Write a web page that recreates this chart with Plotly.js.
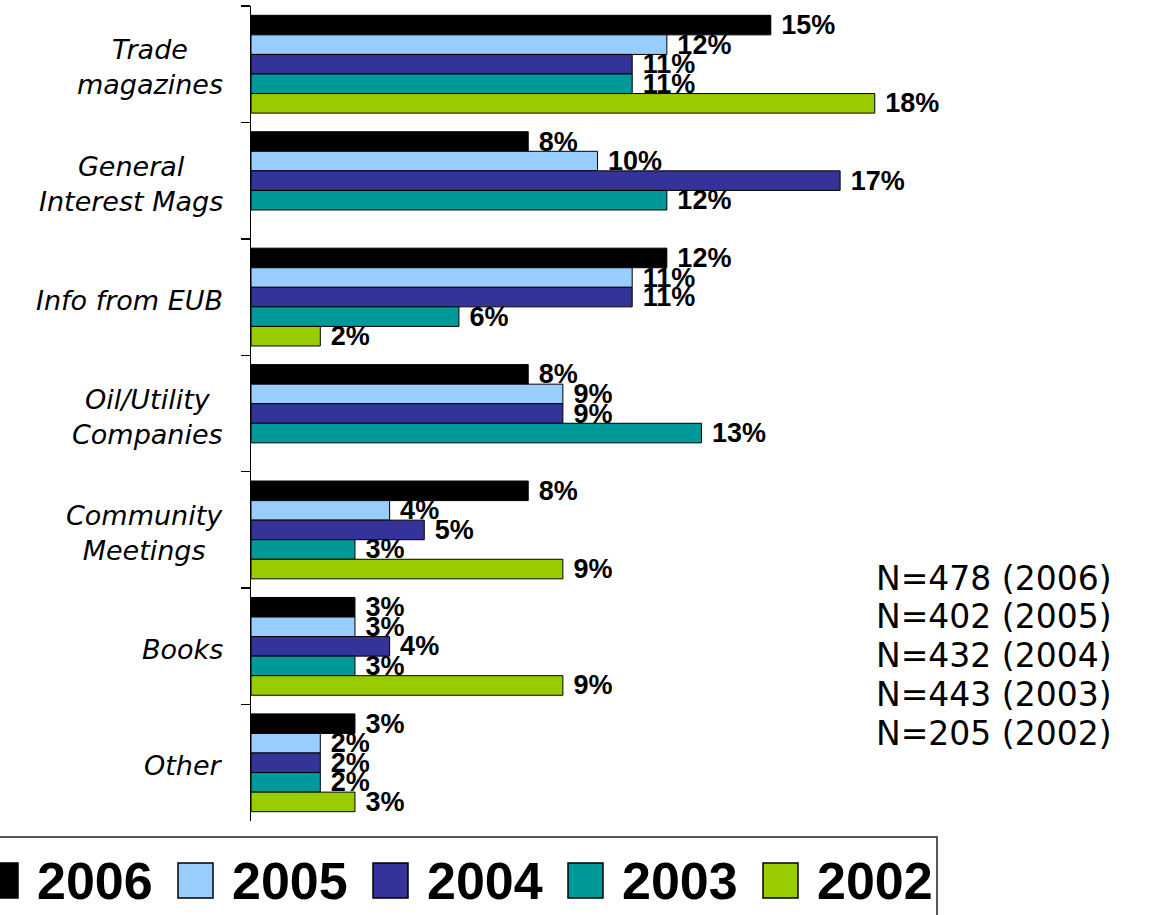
<!DOCTYPE html>
<html>
<head>
<meta charset="utf-8">
<script src="https://cdn.plot.ly/plotly-3.0.1.min.js"></script>
<style>
  html, body { margin: 0; padding: 0; background: #fff; }
  #plot { width: 1160px; height: 915px; }
</style>
</head>
<body>
<div id="plot"></div>
<script>
// categories, top to bottom
const categories = ['Trade magazines', 'General Interest Mags', 'Info from EUB',
  'Oil/Utility Companies', 'Community Meetings', 'Books', 'Other'];
const categoryLabels = ['Trade<br>magazines', 'General<br>Interest Mags', 'Info from EUB',
  'Oil/Utility<br>Companies', 'Community<br>Meetings', 'Books', 'Other'];

const years = ['2006', '2005', '2004', '2003', '2002'];
const colors = ['#000000', '#99ccff', '#333399', '#009999', '#99cc00'];

// percent values per year
const v2006 = [15, 8, 12, 8, 8, 3, 3];
const v2005 = [12, 10, 11, 9, 4, 3, 2];
const v2004 = [11, 17, 11, 9, 5, 4, 2];
const v2003 = [11, 12, 6, 13, 3, 3, 2];
const v2002 = [18, null, 2, null, 9, 9, 3];
const values = [v2006, v2005, v2004, v2003, v2002];

// sample sizes
const nValues = [478, 402, 432, 443, 205];

// plot area in pixels
const W = 1160, H = 915;
const ml = 251, mt = 6, mb = 94, mr = 8;
const pw = W - ml - mr, ph = H - mt - mb;
const px = x => (x - ml) / pw;
const py = y => (H - mb - y) / ph;

const traces = years.map((yr, i) => ({
    type: 'bar',
    orientation: 'h',
    name: yr,
    x: values[i],
    y: categories,
    marker: { color: colors[i], line: { color: '#000', width: 1 } },
    texttemplate: '\u00a0%{x}%',
    textposition: 'outside',
    constraintext: 'none',
    cliponaxis: false,
    textfont: { family: 'Arial, "Liberation Sans", sans-serif', size: 27, color: '#000', weight: 'bold' },
    hoverinfo: 'x+y+name'
}));

let annotations = [];
let shapes = [];

// category labels
categories.forEach((c, i) => {
    annotations.push({
        xref: 'paper', yref: 'y', x: px(225), y: c, yshift: -3,
        xanchor: 'right', yanchor: 'middle', align: 'center',
        text: categoryLabels[i], showarrow: false,
        font: { family: 'Verdana, "DejaVu Sans", sans-serif', size: 27, color: '#000', style: 'italic' }
    });
});

// N= notes
years.forEach((yr, i) => {
    annotations.push({
        xref: 'paper', yref: 'paper', x: px(874), y: py(578 + i * 38.75),
        xanchor: 'left', yanchor: 'middle',
        text: 'N=' + nValues[i] + ' (' + yr + ')', showarrow: false,
        font: { family: 'Verdana, "DejaVu Sans", sans-serif', size: 33, color: '#000' }
    });
});

// legend box
shapes.push({
    type: 'rect', xref: 'paper', yref: 'paper',
    x0: px(-5), x1: px(937), y0: py(925), y1: py(837),
    line: { color: '#222', width: 1.5 }, fillcolor: 'rgba(0,0,0,0)'
});
years.forEach((yr, i) => {
    const left = -17 + 195 * i;
    shapes.push({
        type: 'rect', xref: 'paper', yref: 'paper',
        x0: px(left), x1: px(left + 35), y0: py(898), y1: py(863),
        line: { color: '#000', width: 1.5 }, fillcolor: colors[i]
    });
    annotations.push({
        xref: 'paper', yref: 'paper', x: px(left + 52), y: py(881),
        xanchor: 'left', yanchor: 'middle',
        text: '<b>' + yr + '</b>', showarrow: false,
        font: { family: 'Arial, "Liberation Sans", sans-serif', size: 52, color: '#000' }
    });
});

const layout = {
    width: W, height: H,
    margin: { l: ml, r: mr, t: mt, b: mb, pad: 0 },
    paper_bgcolor: '#fff', plot_bgcolor: '#fff',
    barmode: 'group',
    bargap: 0.16,
    bargroupgap: 0,
    showlegend: false,
    xaxis: {
        range: [0, 26], showgrid: false, zeroline: false,
        showticklabels: false, showline: false, ticks: ''
    },
    yaxis: {
        type: 'category', categoryorder: 'array', categoryarray: categories,
        range: [6.5, -0.5], showgrid: false, zeroline: false,
        showticklabels: false, showline: true, linecolor: '#000', linewidth: 1.5,
        ticks: 'outside', tickson: 'boundaries', ticklen: 9, tickwidth: 1.5, tickcolor: '#000'
    },
    annotations: annotations,
    shapes: shapes
};

Plotly.newPlot('plot', traces, layout, { staticPlot: true });
</script>
</body>
</html>
